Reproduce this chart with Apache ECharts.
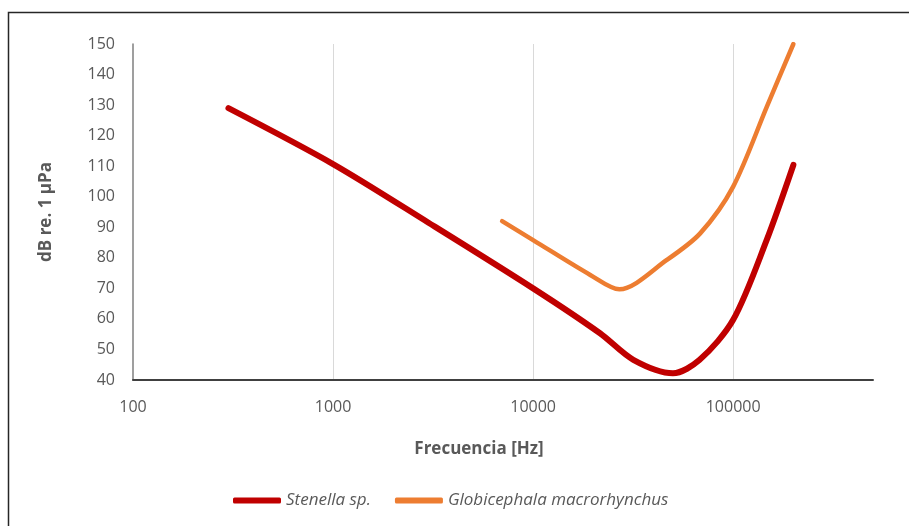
<!DOCTYPE html>
<html>
<head>
<meta charset="utf-8">
<script src="https://cdn.jsdelivr.net/npm/echarts@6/dist/echarts.min.js"></script>
<style>
  html, body { margin: 0; padding: 0; background: #fff; }
  #main { width: 909px; height: 526px; }
</style>
</head>
<body>
<div id="main"></div>
<script>
// audiogramas: frecuencia (Hz) / umbral (dB re. 1 µPa)
const stenellaFreq = [300, 1000, 3000, 10000, 21600, 31700, 50000, 68000, 100000, 147000, 200000];
const stenellaDb   = [129, 110.7, 91.5, 70, 55.3, 46.6, 42.2, 46.6, 59.7, 85.8, 110.4];
const globiFreq = [7000, 10000, 19300, 27000, 46600, 68400, 100000, 147400, 200000];
const globiDb   = [92, 85.8, 74.4, 69.7, 79.3, 88, 103.3, 129.5, 150];
const seriesNames = ['Stenella sp.', 'Globicephala macrorhynchus'];

function pairs(xs, ys){
    let out = [];
    for (let i = 0; i < xs.length; i++) out.push([xs[i], ys[i]]);
    return out;
}

let chart = echarts.init(document.getElementById('main'));
const txt = '#595959';
const fnt = '"Open Sans", Lato, sans-serif';

let option = {
    animation: false,
    textStyle: {fontFamily: fnt},
    grid: {left: 133, right: 36, top: 44, bottom: 146},
    graphic: [{
        type: 'rect',
        shape: {x: 8.5, y: 12.5, width: 1000, height: 600},
        style: {fill: 'none', stroke: '#262626', lineWidth: 1.5},
        silent: true
    }],
    legend: {
        data: seriesNames,
        left: 228,
        top: 487,
        icon: 'roundRect',
        itemWidth: 48,
        itemHeight: 6,
        itemGap: 24,
        textStyle: {color: txt, fontSize: 17, fontStyle: 'italic', fontFamily: fnt}
    },
    xAxis: {
        type: 'log',
        logBase: 10,
        min: 100,
        max: 500000,
        name: 'Frecuencia [Hz]',
        nameLocation: 'middle',
        nameGap: 61,
        nameTextStyle: {color: txt, fontSize: 17, fontWeight: 'bold', padding: [0, 48, 0, 0]},
        axisLine: {lineStyle: {color: '#404040', width: 2}},
        axisTick: {show: false},
        axisLabel: {
            color: txt, fontSize: 16, margin: 19, showMaxLabel: false,
            formatter: function (v) { return String(Math.round(v)); }
        },
        splitLine: {show: true, showMaxLine: false, showMinLine: false, lineStyle: {color: '#d9d9d9', width: 1}},
        minorTick: {show: false}
    },
    yAxis: {
        type: 'value',
        min: 40,
        max: 150,
        interval: 10,
        name: 'dB re. 1 µPa',
        nameLocation: 'middle',
        nameGap: 78,
        nameTextStyle: {color: txt, fontSize: 17, fontWeight: 'bold'},
        axisLine: {show: true, lineStyle: {color: '#7f7f7f', width: 1.5}},
        axisTick: {show: false},
        axisLabel: {color: txt, fontSize: 16, margin: 18},
        splitLine: {show: false}
    },
    series: [
        {
            name: seriesNames[0],
            type: 'line',
            data: pairs(stenellaFreq, stenellaDb),
            smooth: 0.3,
            showSymbol: false,
            symbol: 'none',
            itemStyle: {color: '#c00000'},
            lineStyle: {color: '#c00000', width: 6, cap: 'round'}
        },
        {
            name: seriesNames[1],
            type: 'line',
            data: pairs(globiFreq, globiDb),
            smooth: 0.3,
            showSymbol: false,
            symbol: 'none',
            itemStyle: {color: '#ed7d31'},
            lineStyle: {color: '#ed7d31', width: 4.5, cap: 'round'}
        }
    ]
};
chart.setOption(option);
</script>
</body>
</html>
